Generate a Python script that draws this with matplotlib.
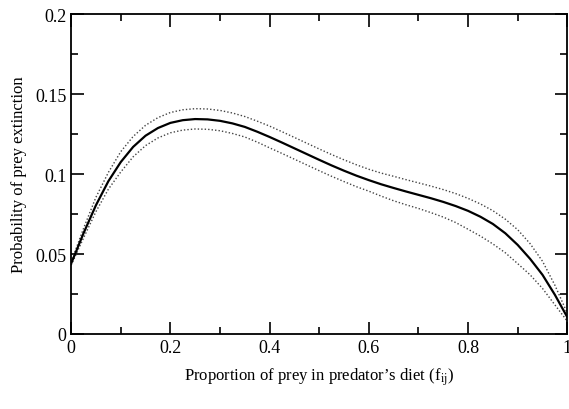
import matplotlib
matplotlib.use("Agg")
import matplotlib.pyplot as plt
from matplotlib.ticker import MultipleLocator

plt.rcParams['font.family'] = ['Liberation Serif', 'DejaVu Serif']
plt.rcParams['mathtext.fontset'] = 'stix'

# proportion of prey in predator's diet
diet = [0, 0.025, 0.05, 0.075, 0.1, 0.125, 0.15, 0.175, 0.2, 0.225, 0.25, 0.275, 0.3,
        0.325, 0.35, 0.375, 0.4, 0.425, 0.45, 0.475, 0.5, 0.525, 0.55, 0.575, 0.6,
        0.625, 0.65, 0.675, 0.7, 0.725, 0.75, 0.775, 0.8, 0.825, 0.85, 0.875, 0.9,
        0.925, 0.95, 0.975, 1.0]
# probability of prey extinction: mean curve
p_mean = [0.0440, 0.0630, 0.0805, 0.0955, 0.1075, 0.1170, 0.1240, 0.1288, 0.1320, 0.1337,
          0.1344, 0.1342, 0.1333, 0.1317, 0.1295, 0.1265, 0.1232, 0.1197, 0.1161, 0.1125,
          0.1089, 0.1054, 0.1021, 0.0990, 0.0962, 0.0936, 0.0913, 0.0891, 0.0870, 0.0849,
          0.0826, 0.0800, 0.0770, 0.0733, 0.0688, 0.0630, 0.0557, 0.0470, 0.0370, 0.0245,
          0.0105]
# upper and lower bounds (dotted)
p_upper = [0.0450, 0.0660, 0.0855, 0.1010, 0.1140, 0.1235, 0.1305, 0.1353, 0.1385, 0.1402,
           0.1409, 0.1407, 0.1398, 0.1382, 0.1360, 0.1331, 0.1300, 0.1265, 0.1229, 0.1193,
           0.1157, 0.1122, 0.1089, 0.1058, 0.1030, 0.1006, 0.0986, 0.0965, 0.0945, 0.0925,
           0.0903, 0.0878, 0.0848, 0.0813, 0.0771, 0.0718, 0.0652, 0.0565, 0.0455, 0.0305,
           0.0130]
p_lower = [0.0430, 0.0600, 0.0765, 0.0905, 0.1013, 0.1108, 0.1178, 0.1226, 0.1258, 0.1275,
           0.1282, 0.1280, 0.1271, 0.1254, 0.1232, 0.1200, 0.1164, 0.1129, 0.1093, 0.1057,
           0.1021, 0.0986, 0.0953, 0.0921, 0.0893, 0.0862, 0.0833, 0.0808, 0.0785, 0.0759,
           0.0731, 0.0697, 0.0655, 0.0612, 0.0563, 0.0508, 0.0440, 0.0370, 0.0285, 0.0182,
           0.0080]

fig = plt.figure(figsize=(5.69, 4.10), dpi=100)
ax = fig.add_axes([0.125, 0.183, 0.872, 0.78])

ax.plot(diet, p_upper, color='#444444', lw=1.0, ls=(0, (1, 1.5)))
ax.plot(diet, p_lower, color='#444444', lw=1.0, ls=(0, (1, 1.5)))
ax.plot(diet, p_mean, color='black', lw=1.6)

ax.set_xlim(0, 1)
ax.set_ylim(0, 0.2)
ax.xaxis.set_minor_locator(MultipleLocator(0.1))
ax.yaxis.set_minor_locator(MultipleLocator(0.025))
ax.set_xticks([0, 0.2, 0.4, 0.6, 0.8, 1.0])
ax.set_xticklabels(['0', '0.2', '0.4', '0.6', '0.8', '1'])
ax.set_yticks([0, 0.05, 0.1, 0.15, 0.2])
ax.set_yticklabels(['0', '0.05', '0.1', '0.15', '0.2'])
ax.tick_params(which='both', direction='in', top=True, right=True, width=1.2, labelsize=13)
ax.tick_params(which='major', length=9)
ax.tick_params(which='minor', length=5)
for s in ax.spines.values():
    s.set_linewidth(1.3)

ax.set_xlabel("Proportion of prey in predator\u2019s diet (f$_{\\rm ij}$)", fontsize=12, labelpad=7)
ax.set_ylabel("Probability of prey extinction", fontsize=12, labelpad=6)

fig.savefig("out.png", dpi=100)
